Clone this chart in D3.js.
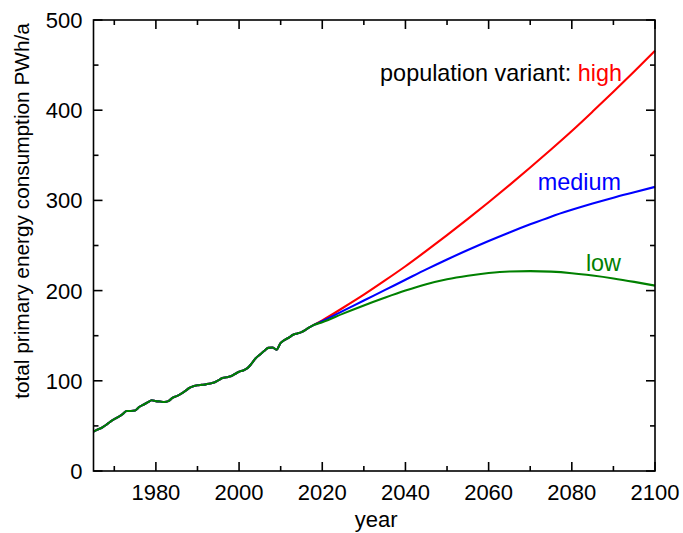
<!DOCTYPE html>
<html>
<head>
<meta charset="utf-8">
<script src="https://cdn.jsdelivr.net/npm/d3@7"></script>
<style>
  html, body { margin: 0; padding: 0; background: #fff; }
  svg { display: block; font-family: "Liberation Sans", Arial, sans-serif; }
</style>
</head>
<body>
<svg id="chart" width="683" height="533"></svg>
<script>
// Historical world primary energy consumption (PWh/a)
const histYears = [1965,1966,1967,1968,1969,1970,1971,1972,1973,1974,1975,1976,1977,1978,1979,
  1980,1981,1982,1983,1984,1985,1986,1987,1988,1989,1990,1991,1992,1993,1994,1995,1996,1997,1998,1999,
  2000,2001,2002,2003,2004,2005,2006,2007,2008,2009,2010,2011,2012,2013,2014,2015,2016,2017,2018];
const histValues = [43.6,46,48,51,54.5,57.5,60,63,66.5,66.5,67,71,73.5,76,78.5,
  77.5,77,76.5,77.5,81,83,85.5,88.5,92,94,95,95.5,96,97,98,100.5,103,104,105,107.5,
  110,111.5,114,119,125,129,133,136.5,137,134.5,142,145.5,148,151,152.5,154,156.5,159.5,162];

// Projections by population variant
const projYears = [2018,2020,2025,2030,2035,2040,2045,2050,2055,2060,2065,2070,2075,2080,2085,2090,2095,2100];
const highValues   = [162,167,181,195.5,211,227,244,261.5,279.5,298,317,336.5,356.5,377,398.5,420.5,443,466];
const mediumValues = [162,166,177.5,189,200.5,212,223.5,234.5,245,255,264.5,273.5,282,289.5,296.5,303,309,315];
const lowValues    = [162,165,174.5,183.5,192,200,207,212.5,216.5,219.5,221.2,221.6,221,219.3,216.7,213.5,209.7,205.5];

const xMajorTicks = [1980,2000,2020,2040,2060,2080,2100];
const xMinorTicks = [1970,1990,2010,2030,2050,2070,2090];
const yMajorTicks = [0,100,200,300,400,500];
const yMinorTicks = [50,150,250,350,450];

const seriesNames = ["high","medium","low"];
const seriesColors = {high:"#ff0000", medium:"#0000ff", low:"#008000"};

// ---- build
const svg = d3.select("#chart");
const margin = {left: 93.5, right: 28, top: 20, bottom: 62};
const W = 683, H = 533;
const x = d3.scaleLinear().domain([1965, 2100]).range([margin.left, W - margin.right]);
const y = d3.scaleLinear().domain([0, 500]).range([H - margin.bottom, margin.top]);

const hist = histYears.map((yr, i) => ({year: yr, value: histValues[i]}));
function series(vals) {
  return hist.slice(0, -1).concat(projYears.map((yr, i) => ({year: yr, value: vals[i]})));
}
const data = {high: series(highValues), medium: series(mediumValues), low: series(lowValues)};

const line = d3.line().x(d => x(d.year)).y(d => y(d.value)).curve(d3.curveMonotoneX);

const plot = svg.append("g");
seriesNames.forEach(name => {
  plot.append("path")
    .datum(data[name])
    .attr("fill", "none")
    .attr("stroke", seriesColors[name])
    .attr("stroke-width", 2.1)
    .attr("stroke-linejoin", "round")
    .attr("d", line);
});

// ---- frame and ticks (inward on all four sides)
const x0 = x.range()[0], x1 = x.range()[1], y0 = y.range()[0], y1 = y.range()[1];
const frame = svg.append("g").attr("stroke", "#000").attr("stroke-width", 1.6);
frame.append("rect").attr("x", x0).attr("y", y1).attr("width", x1 - x0).attr("height", y0 - y1).attr("fill", "none");

const majorLen = 9, minorLen = 5;
function xTicks(vals, len) {
  vals.forEach(v => {
    frame.append("line").attr("x1", x(v)).attr("x2", x(v)).attr("y1", y0).attr("y2", y0 - len);
    frame.append("line").attr("x1", x(v)).attr("x2", x(v)).attr("y1", y1).attr("y2", y1 + len);
  });
}
function yTicks(vals, len) {
  vals.forEach(v => {
    frame.append("line").attr("y1", y(v)).attr("y2", y(v)).attr("x1", x0).attr("x2", x0 + len);
    frame.append("line").attr("y1", y(v)).attr("y2", y(v)).attr("x1", x1).attr("x2", x1 - len);
  });
}
xTicks(xMajorTicks, majorLen);
xTicks(xMinorTicks, minorLen);
yTicks(yMajorTicks, majorLen);
yTicks(yMinorTicks, minorLen);

// ---- tick labels
const fs = 22;
svg.append("g").selectAll("text").data(xMajorTicks).join("text")
  .attr("x", d => x(d)).attr("y", 499.5)
  .attr("text-anchor", "middle").attr("font-size", fs).attr("fill", "#000")
  .text(d => d);
svg.append("g").selectAll("text").data(yMajorTicks).join("text")
  .attr("x", 82.5).attr("y", d => y(d)).attr("dy", "0.36em")
  .attr("text-anchor", "end").attr("font-size", fs).attr("fill", "#000")
  .text(d => d);

// ---- axis titles
svg.append("text").attr("x", (x0 + x1) / 2 + 2).attr("y", 527)
  .attr("text-anchor", "middle").attr("font-size", 22).text("year");
svg.append("text").attr("transform", "translate(29,211) rotate(-90)")
  .attr("text-anchor", "middle").attr("font-size", 20.8)
  .text("total primary energy consumption PWh/a");

// ---- annotations
const ann = svg.append("g").attr("font-size", 23.4).attr("text-anchor", "end");
const t1 = ann.append("text").attr("x", 622).attr("y", 81);
t1.append("tspan").attr("fill", "#000").text("population variant: ");
t1.append("tspan").attr("fill", seriesColors.high).text("high");
ann.append("text").attr("x", 621).attr("y", 190).attr("fill", seriesColors.medium).text("medium");
ann.append("text").attr("x", 621).attr("y", 271).attr("fill", seriesColors.low).text("low");
</script>
</body>
</html>
